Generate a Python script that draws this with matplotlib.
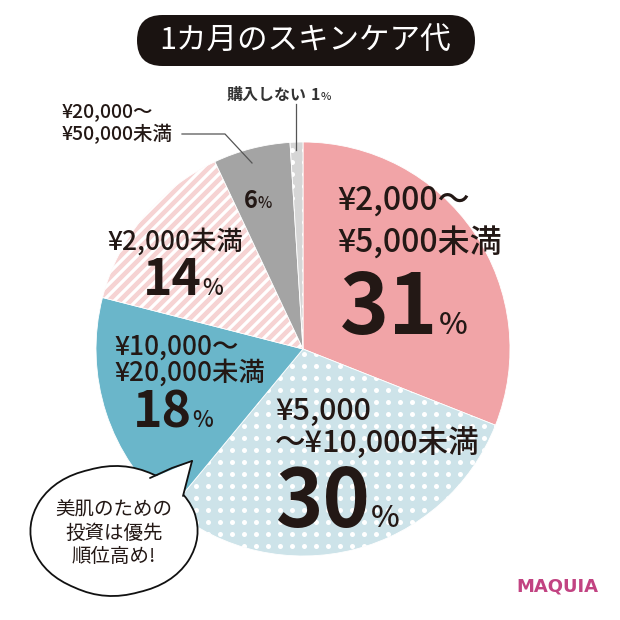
import matplotlib
matplotlib.use('Agg')
import matplotlib.pyplot as plt
import numpy as np
from matplotlib.patches import FancyBboxPatch, PathPatch, Polygon
from matplotlib.path import Path
from matplotlib.collections import LineCollection

plt.rcParams['font.family'] = ['Noto Sans CJK JP', 'DejaVu Sans']

# ---------------- data ----------------
title = "1カ月のスキンケア代"
categories = ["¥2,000～\n¥5,000未満", "¥5,000\n～¥10,000未満", "¥10,000～\n¥20,000未満",
              "¥2,000未満", "¥20,000～\n¥50,000未満", "購入しない"]
values = [31, 30, 18, 14, 6, 1]
bubble_text = "美肌のための\n投資は優先\n順位高め!"
brand = "MAQUIA"

# ---------------- style ----------------
colors = ["#f1a4a7", "#cde3e9", "#6ab6ca", "#f6d3d3", "#a4a4a4", "#d6d6d6"]
TXT = "#231815"
H = 620


def Y(y):
    return H - y


fig = plt.figure(figsize=(6.2, 6.2), dpi=100)
ax = fig.add_axes([0, 0, 1, 1])

CX, CY, R = 303, Y(349), 207
wedges, _ = ax.pie(values, colors=colors, startangle=90, counterclock=False,
                   center=(CX, CY), radius=R,
                   wedgeprops=dict(edgecolor='white', linewidth=0.6))
ax.set_xlim(0, H)
ax.set_ylim(0, H)
ax.set_aspect('equal')
ax.axis('off')

# dot pattern for the 30% and 1% wedges
gx, gy = np.meshgrid(np.arange(4, H, 12.0), np.arange(2, H, 12.0))
for wi in (1, 5):
    sc = ax.scatter(gx.ravel(), gy.ravel(), s=13, c='white', linewidths=0, zorder=3)
    sc.set_clip_path(wedges[wi])

# stripes for the 14% wedge
segs = [[(0, c), (H, H + c)] for c in np.arange(-H, H, 11.0)]
lc = LineCollection(segs, colors='white', linewidths=2.3, zorder=3)
ax.add_collection(lc)
lc.set_clip_path(wedges[3])

# ---------------- title ----------------
box = FancyBboxPatch((137, Y(66)), 338, 51, boxstyle="round,pad=0,rounding_size=25.5",
                     fc="#1a1311", ec="none", zorder=5)
ax.add_patch(box)
ax.text(305, Y(41), title, color='white', fontsize=22, ha='center', va='center', zorder=6)

# ---------------- labels ----------------
renderer = fig.canvas.get_renderer()


def lines(txt, x, ys, size, ha='left', weight='medium', color=TXT):
    for t, yy in zip(txt.split("\n"), ys):
        ax.text(x, Y(yy), t, fontsize=size, fontweight=weight, color=color,
                ha=ha, va='center', zorder=6)


def pct_label(v, x, y, big, small, gap=0, weight='bold', color=TXT):
    t = ax.text(x, Y(y), f"{v}", fontsize=big, fontweight=weight, color=color,
                ha='left', va='baseline', zorder=6)
    bb = t.get_window_extent(renderer=renderer)
    ax.text(bb.x1 + gap, Y(y), "%", fontsize=small, fontweight='medium', color=color,
            ha='left', va='baseline', zorder=6)


# 31%
lines(categories[0], 337, [201, 243], 23)
pct_label(values[0], 340, 334, 60, 22, 0)
# 30%
lines(categories[1], 275, [411, 443], 22)
pct_label(values[1], 276, 527, 58, 22, 0)
# 18%
lines(categories[2], 114, [347, 373], 19)
pct_label(values[2], 133, 427, 36, 16, 0)
# 14%
lines(categories[3], 107, [242], 19)
pct_label(values[3], 143, 295, 36, 16, 0)
# 6%
pct_label(values[4], 244, 208, 17, 11, 0)
# 1%
ax.text(227, Y(100), categories[5], fontsize=11.5, fontweight='bold',
        color='#333333', ha='left', va='baseline', zorder=6)
pct_label(values[5], 311, 100, 11.5, 8, 0, color='#333333')
# 20,000-50,000
lines(categories[4], 62, [112, 134], 14)

# leader lines
ax.plot([182, 225, 252], [Y(134), Y(134), Y(163)], color='#555555', lw=0.9, zorder=6)
ax.plot([296, 296], [Y(104), Y(150)], color='#555555', lw=0.9, zorder=6)


# ---------------- speech bubble ----------------
def cloud_path(cx, cy, a, b, n, bulge, off):
    t = np.linspace(0, 2 * np.pi, n + 1) + off
    pts = np.c_[cx + a * np.cos(t), cy + b * np.sin(t)]
    verts, codes = [pts[0]], [Path.MOVETO]
    for i in range(n):
        p0, p1 = pts[i], pts[i + 1]
        m = (p0 + p1) / 2
        d = m - np.array([cx, cy])
        d = d / np.linalg.norm(d)
        verts += [m + d * bulge * 2, p1]
        codes += [Path.CURVE3, Path.CURVE3]
    return Path(verts, codes)


bcx, bcy = 114, Y(531)
cp = cloud_path(bcx, bcy, 84, 64, 8, 6, 0.3)
ax.add_patch(PathPatch(cp, fc='white', ec='none', zorder=7, lw=0))
ax.add_patch(PathPatch(cp, fc='none', ec='#111111', lw=1.3, zorder=8))
tail = Polygon([(152, Y(478)), (192, Y(461)), (183, Y(497)), (170, Y(495))], closed=True,
               fc='white', ec='none', zorder=9)
ax.add_patch(tail)
ax.plot([150, 172, 192], [Y(478), Y(468), Y(461)], color='#111111', lw=1.3, zorder=10,
        solid_capstyle='round')
ax.plot([192, 183], [Y(461), Y(496)], color='#111111', lw=1.3, zorder=10, solid_capstyle='round')
ax.text(114, Y(533), bubble_text, fontsize=14, color=TXT, ha='center', va='center',
        linespacing=1.15, zorder=11)

# ---------------- brand ----------------
ax.text(557, Y(587), brand, fontsize=13, fontweight='bold', color='#c24382', ha='center',
        va='center', family=['DejaVu Sans'], zorder=6)

fig.savefig('out.png', dpi=100, facecolor='white')
